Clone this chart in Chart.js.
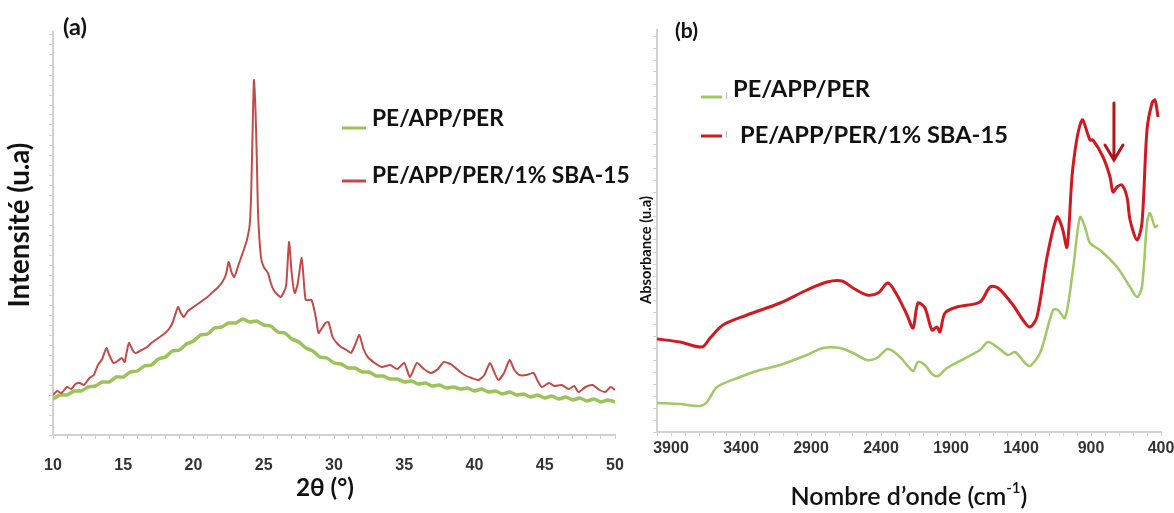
<!DOCTYPE html>
<html>
<head>
<meta charset="utf-8">
<script src="https://cdn.jsdelivr.net/npm/chart.js"></script>
<style>
  body { margin: 0; background: #fff; width: 1174px; height: 513px; overflow: hidden; position: relative; }
  canvas { position: absolute; top: 0; }
  #xrd { left: 0; }
  #ftir { left: 630px; }
</style>
</head>
<body>
<canvas id="xrd" width="630" height="513"></canvas>
<canvas id="ftir" width="544" height="513"></canvas>
<script>
// ---- (a) DRX data : 2theta (deg) / intensity (a.u.)
const xrdAngleGreen = [10, 10.5, 11, 11.5, 12, 12.5, 13, 13.5, 14, 14.5, 15, 15.5, 16, 16.5, 17, 17.5, 18, 18.5, 19, 19.5,
  20, 20.5, 21, 21.5, 22, 22.5, 23, 23.5, 24, 24.5, 25, 25.5, 26, 26.5, 27, 27.5, 28, 28.5, 29, 29.5,
  30, 30.5, 31, 31.5, 32, 32.5, 33, 33.5, 34, 34.5, 35, 35.5, 36, 36.5, 37, 37.5, 38, 38.5, 39, 39.5,
  40, 40.5, 41, 41.5, 42, 42.5, 43, 43.5, 44, 44.5, 45, 45.5, 46, 46.5, 47, 47.5, 48, 48.5, 49, 49.5, 50];
const xrdGreen = [36, 40, 40, 44, 44, 48, 49, 53, 53, 58, 58, 63, 64, 69, 70, 76, 78, 84, 85, 91,
  94, 100, 101, 107, 108, 112, 112, 116, 113, 114, 110, 109, 103, 102, 96, 93, 87, 84, 78, 77,
  72, 71, 67, 67, 63, 63, 59, 59, 56, 56, 53, 54, 51, 52, 49, 50, 47, 48, 46, 47,
  44, 46, 43, 44, 41, 43, 40, 41, 38, 40, 37, 39, 36, 38, 35, 37, 34, 36, 33, 35, 33];

const xrdAngleRed = [10.0, 10.3, 10.6, 11.0, 11.3, 11.6, 11.9, 12.2, 12.6, 12.9, 13.2, 13.5, 13.8, 14.0, 14.3, 14.6, 14.9, 15.1,
  15.4, 15.7, 15.9, 16.3, 16.7, 17.0, 17.3, 17.6, 17.9, 18.2, 18.5, 18.9, 19.1, 19.3, 19.6, 20.0, 20.3, 20.6,
  21.0, 21.3, 21.7, 22.0, 22.3, 22.5, 22.7, 22.9, 23.2, 23.4, 23.6, 23.8, 24.0, 24.1, 24.2, 24.3, 24.4, 24.5,
  24.6, 24.8, 25.0, 25.3, 25.5, 25.7, 26.0, 26.2, 26.4, 26.6, 26.8, 27.0, 27.2, 27.4, 27.7, 27.9, 28.0, 28.4,
  28.7, 28.9, 29.1, 29.4, 29.6, 29.9, 30.2, 30.5, 30.9, 31.2, 31.5, 31.8, 32.1, 32.4, 32.9, 33.4, 34.0, 34.5,
  35.0, 35.4, 35.9, 36.4, 36.9, 37.4, 37.8, 38.1, 38.4, 38.9, 39.3, 39.8, 40.3, 40.7, 41.1, 41.4, 41.7, 42.1,
  42.5, 42.8, 43.2, 43.7, 44.2, 44.5, 44.8, 45.3, 45.7, 46.2, 46.7, 47.1, 47.4, 47.9, 48.4, 48.9, 49.3, 49.7, 50.0];
const xrdRed = [40, 44, 42, 48, 46, 51, 52, 50, 57, 60, 70, 76, 87, 80, 72, 74, 77, 73,
  92, 84, 82, 85, 88, 92, 95, 98, 101, 105, 112, 128, 122, 118, 124, 128, 131, 134,
  138, 142, 147, 152, 160, 173, 163, 158, 170, 178, 186, 195, 210, 240, 300, 355, 330, 280,
  220, 178, 168, 162, 152, 145, 140, 138, 142, 150, 193, 160, 142, 150, 177, 145, 135, 135,
  118, 102, 106, 112, 113, 98, 92, 88, 85, 82, 90, 100, 86, 78, 72, 68, 70, 66,
  72, 58, 72, 66, 62, 66, 73, 72, 70, 64, 60, 57, 55, 60, 72, 63, 55, 62,
  75, 66, 60, 60, 62, 54, 48, 52, 49, 50, 46, 49, 43, 48, 50, 45, 43, 48, 45];

// ---- (b) FTIR data : wavenumber (cm-1) / absorbance (a.u.)
const ftirWaveRed = [4000, 3836, 3679, 3621, 3529, 3357, 3121, 2929, 2786, 2679, 2600, 2500, 2421, 2350, 2286, 2214, 2171, 2136,
  2086, 2036, 2000, 1979, 1943, 1857, 1693, 1621, 1564, 1457, 1386, 1336, 1286, 1214, 1143, 1107, 1071, 1029,
  964, 907, 886, 814, 764, 743, 714, 679, 643, 621, 571, 536, 500, 464, 443, 421];
const ftirRed = [93, 90, 85, 94, 107, 117, 129, 142, 150, 151, 144, 137, 139, 149, 137, 117, 104, 129,
  124, 102, 105, 100, 119, 125, 130, 145, 144, 127, 112, 105, 115, 175, 215, 205, 185, 265,
  312, 292, 292, 275, 255, 240, 245, 247, 235, 212, 192, 209, 302, 329, 332, 315];

const ftirWaveGreen = [4000, 3836, 3693, 3643, 3571, 3407, 3264, 3121, 2929, 2814, 2693, 2600, 2500, 2429, 2350, 2264, 2171, 2136,
  2086, 2036, 1993, 1929, 1693, 1636, 1571, 1493, 1443, 1371, 1336, 1264, 1171, 1136, 1086, 1029, 979, 943,
  907, 836, 714, 621, 571, 536, 500, 479, 443, 421];
const ftirGreen = [29, 28, 26, 30, 45, 55, 62, 67, 77, 84, 84, 79, 72, 74, 83, 75, 61, 70,
  67, 58, 56, 64, 82, 90, 85, 77, 80, 69, 66, 79, 122, 122, 114, 162, 215, 205,
  189, 182, 165, 145, 135, 145, 209, 219, 205, 207];

const seriesNames = ['PE/APP/PER', 'PE/APP/PER/1% SBA-15'];
const xrdTicks = [10, 15, 20, 25, 30, 35, 40, 45, 50];
const ftirTicks = [3900, 3400, 2900, 2400, 1900, 1400, 900, 400];

const toPoints = (xs, ys) => xs.map((x, i) => ({ x, y: ys[i] }));

const AXIS_GREY = '#d2d2d2';
const TICK_FONT = { family: "'Liberation Sans Narrow', 'Liberation Sans', sans-serif", size: 16, weight: 'bold' };

// font size that makes a text fill a given width
const fitSize = (ctx, text, width, weight, family) => {
  ctx.font = `${weight} 100px ${family}`;
  return 100 * width / ctx.measureText(text).width;
};

const minorTicks = (from, to, step) => {
  const out = [];
  for (let v = from; v <= to + 1e-9; v += step) out.push({ value: v });
  return out;
};

// fixed box size for an x axis, without the label overhang padding
const fixHeight = (h) => (scale) => {
  scale.height = h;
  scale.paddingLeft = 0;
  scale.paddingRight = 0;
};

const axisBase = {
  grid: { drawOnChartArea: false, drawTicks: true, tickLength: 4, color: AXIS_GREY, lineWidth: 1 },
  border: { color: AXIS_GREY, width: 2 }
};

// ---------- overlay for panel (a)
const xrdOverlay = {
  id: 'xrdOverlay',
  afterDraw(chart) {
    const ctx = chart.ctx;
    const fam = "Lato, 'Open Sans', sans-serif";
    ctx.save();
    ctx.fillStyle = '#111';
    ctx.textBaseline = 'middle';

    ctx.font = `bold ${fitSize(ctx, '(a)', 24, 'bold', fam)}px ${fam}`;
    ctx.textAlign = 'left';
    ctx.fillText('(a)', 63, 27);

    // legend
    const legSize = fitSize(ctx, seriesNames[1], 258, 'bold', fam);
    const lineY = [128, 181];
    const textY = [119, 176];
    chart.data.datasets.forEach((ds, i) => {
      ctx.strokeStyle = ds.borderColor;
      ctx.lineWidth = 3;
      ctx.beginPath();
      ctx.moveTo(342, lineY[i]);
      ctx.lineTo(366, lineY[i]);
      ctx.stroke();
      ctx.font = `bold ${legSize}px ${fam}`;
      ctx.fillText(ds.label, 372, textY[i]);
    });

    // axis titles
    ctx.textAlign = 'center';
    ctx.font = `bold ${fitSize(ctx, '2θ (°)', 58, 'bold', fam)}px ${fam}`;
    ctx.fillText('2θ (°)', 325, 488);

    ctx.translate(20, 225);
    ctx.rotate(-Math.PI / 2);
    ctx.font = `bold ${fitSize(ctx, 'Intensité (u.a)', 165, 'bold', fam)}px ${fam}`;
    ctx.fillText('Intensité (u.a)', 0, 0);
    ctx.restore();
  }
};

// ---------- overlay for panel (b)
const ftirOverlay = {
  id: 'ftirOverlay',
  afterDraw(chart) {
    const ctx = chart.ctx;
    const fam = "Lato, 'Open Sans', sans-serif";
    const xs = chart.scales.x, ys = chart.scales.y;
    ctx.save();
    ctx.fillStyle = '#111';
    ctx.textBaseline = 'middle';
    ctx.textAlign = 'left';

    ctx.font = `bold ${fitSize(ctx, '(b)', 23, 'bold', fam)}px ${fam}`;
    ctx.fillText('(b)', 45, 31);

    // legend (green first, red second)
    const legSize = fitSize(ctx, seriesNames[1], 268, 'bold', fam);
    const lineY = [97, 136];
    const textY = [89, 135];
    const textX = [103, 110];
    chart.data.datasets.forEach((ds, i) => {
      ctx.strokeStyle = ds.borderColor;
      ctx.lineWidth = 3;
      ctx.beginPath();
      ctx.moveTo(71, lineY[i]);
      ctx.lineTo(92, lineY[i]);
      ctx.stroke();
      ctx.strokeStyle = '#bbb';
      ctx.lineWidth = 1;
      ctx.beginPath();
      ctx.moveTo(96.5, lineY[i] - 5);
      ctx.lineTo(96.5, lineY[i] + 2);
      ctx.stroke();
      ctx.font = `bold ${legSize}px ${fam}`;
      ctx.fillText(ds.label, textX[i], textY[i]);
    });

    // arrow pointing at the shoulder near 740 cm-1
    const ax = xs.getPixelForValue(736);
    const top = ys.getPixelForValue(329);
    const tip = ys.getPixelForValue(272);
    ctx.strokeStyle = '#b3141c';
    ctx.lineWidth = 3;
    ctx.lineCap = 'round';
    ctx.beginPath();
    ctx.moveTo(ax, top);
    ctx.lineTo(ax, tip);
    ctx.moveTo(ax - 9, tip - 15);
    ctx.lineTo(ax, tip);
    ctx.lineTo(ax + 9, tip - 15);
    ctx.stroke();

    // x title with superscript
    const p1 = 'Nombre d’onde (cm', sup = '-1', p3 = ')';
    ctx.font = `600 100px ${fam}`;
    const w100 = ctx.measureText(p1).width + ctx.measureText(p3).width + 0.6 * ctx.measureText(sup).width;
    const s = 100 * 237 / w100;
    const startX = 279 - 237 / 2;
    const y = 497;
    ctx.font = `600 ${s}px ${fam}`;
    const w1 = ctx.measureText(p1).width;
    ctx.fillText(p1, startX, y);
    ctx.font = `600 ${s * 0.6}px ${fam}`;
    const ws = ctx.measureText(sup).width;
    ctx.fillText(sup, startX + w1, y - s * 0.35);
    ctx.font = `600 ${s}px ${fam}`;
    ctx.fillText(p3, startX + w1 + ws, y);

    // y title
    ctx.textAlign = 'center';
    ctx.translate(16, 250);
    ctx.rotate(-Math.PI / 2);
    ctx.font = `bold ${fitSize(ctx, 'Absorbance (u.a)', 108, 'bold', fam)}px ${fam}`;
    ctx.fillText('Absorbance (u.a)', 0, 0);
    ctx.restore();
  }
};

// ---------- chart (a)
new Chart(document.getElementById('xrd'), {
  type: 'line',
  data: {
    datasets: [
      { label: seriesNames[0], data: toPoints(xrdAngleGreen, xrdGreen), borderColor: '#9bc35a', borderWidth: 3.5, order: 2 },
      { label: seriesNames[1], data: toPoints(xrdAngleRed, xrdRed), borderColor: '#c24b4a', borderWidth: 2, order: 1 }
    ]
  },
  options: {
    responsive: false,
    animation: false,
    devicePixelRatio: 1,
    elements: { point: { radius: 0 }, line: { tension: 0.2 } },
    layout: { padding: { top: 32, left: 0, right: 15, bottom: 0 } },
    plugins: { legend: { display: false }, tooltip: { enabled: false } },
    scales: {
      x: {
        type: 'linear', min: 10, max: 50, ...axisBase,
        afterBuildTicks: (scale) => { scale.ticks = minorTicks(10, 50, 1); },
        afterFit: fixHeight(78),
        ticks: {
          autoSkip: false, maxRotation: 0, padding: 17, color: '#333', font: TICK_FONT,
          callback: (v) => xrdTicks.includes(v) ? String(v) : ''
        }
      },
      y: {
        type: 'linear', min: 0, max: 403, ...axisBase,
        afterBuildTicks: (scale) => { scale.ticks = minorTicks(0, 400, 10); },
        afterFit: (scale) => { scale.width = 53; },
        ticks: { autoSkip: false, callback: () => '' }
      }
    }
  },
  plugins: [xrdOverlay]
});

// ---------- chart (b)
new Chart(document.getElementById('ftir'), {
  type: 'line',
  data: {
    datasets: [
      { label: seriesNames[0], data: toPoints(ftirWaveGreen, ftirGreen), borderColor: '#a0c865', borderWidth: 2.5 },
      { label: seriesNames[1], data: toPoints(ftirWaveRed, ftirRed), borderColor: '#d01a20', borderWidth: 3 }
    ]
  },
  options: {
    responsive: false,
    animation: false,
    devicePixelRatio: 1,
    elements: { point: { radius: 0 }, line: { tension: 0.3 } },
    layout: { padding: { top: 30, left: 0, right: 13, bottom: 0 } },
    plugins: { legend: { display: false }, tooltip: { enabled: false } },
    scales: {
      x: {
        type: 'linear', min: 400, max: 4000, reverse: true, ...axisBase,
        afterBuildTicks: (scale) => { scale.ticks = minorTicks(400, 4000, 100); },
        afterFit: fixHeight(81),
        ticks: {
          autoSkip: false, maxRotation: 0, padding: 3, color: '#333', font: TICK_FONT,
          callback: (v) => ftirTicks.includes(v) ? String(v) : ''
        }
      },
      y: {
        type: 'linear', min: 0, max: 402, ...axisBase,
        afterBuildTicks: (scale) => { scale.ticks = minorTicks(0, 396, 12); },
        afterFit: (scale) => { scale.width = 27; },
        ticks: { autoSkip: false, callback: () => '' }
      }
    }
  },
  plugins: [ftirOverlay]
});
</script>
</body>
</html>
